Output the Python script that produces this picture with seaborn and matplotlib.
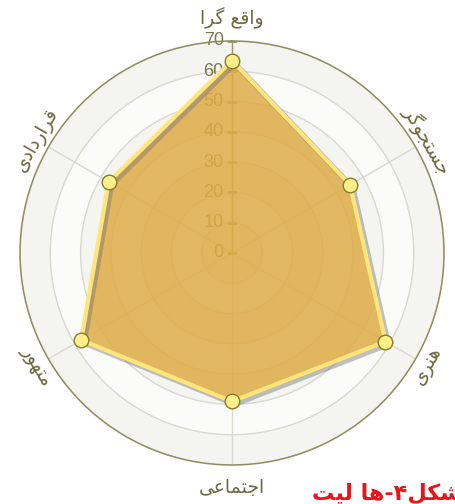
import matplotlib
matplotlib.use("Agg")
import matplotlib.pyplot as plt
import matplotlib.patheffects as pe
from matplotlib.transforms import offset_copy
import seaborn as sns
import numpy as np
import pandas as pd

# data (clockwise from top)
categories = ["واقع گرا", "جستجوگر", "هنری", "اجتماعی", "متهور", "قراردادی"]
scores = [63.5, 45, 58.5, 49, 57.5, 47]
r_ticks = [0, 10, 20, 30, 40, 50, 60, 70]
caption = "شکل۴-ها لیت"

# minimal persian shaping: (isolated, final, initial, medial)
FORMS = {
    "ا": ("\uFE8D", "\uFE8E", None, None),
    "و": ("\uFEED", "\uFEEE", None, None),
    "ر": ("\uFEAD", "\uFEAE", None, None),
    "د": ("\uFEA9", "\uFEAA", None, None),
    "ق": ("\uFED5", "\uFED6", "\uFED7", "\uFED8"),
    "ع": ("\uFEC9", "\uFECA", "\uFECB", "\uFECC"),
    "گ": ("\uFB92", "\uFB93", "\uFB94", "\uFB95"),
    "ج": ("\uFE9D", "\uFE9E", "\uFE9F", "\uFEA0"),
    "س": ("\uFEB1", "\uFEB2", "\uFEB3", "\uFEB4"),
    "ت": ("\uFE95", "\uFE96", "\uFE97", "\uFE98"),
    "ه": ("\uFEE9", "\uFEEA", "\uFEEB", "\uFEEC"),
    "ن": ("\uFEE5", "\uFEE6", "\uFEE7", "\uFEE8"),
    "ی": ("\uFBFC", "\uFBFD", "\uFBFE", "\uFBFF"),
    "م": ("\uFEE1", "\uFEE2", "\uFEE3", "\uFEE4"),
    "ل": ("\uFEDD", "\uFEDE", "\uFEDF", "\uFEE0"),
    "ش": ("\uFEB5", "\uFEB6", "\uFEB7", "\uFEB8"),
    "ک": ("\uFB8E", "\uFB8F", "\uFB90", "\uFB91"),
}


def shape(s):
    out = []
    for i, c in enumerate(s):
        if c not in FORMS:
            out.append(c)
            continue
        iso, fin, ini, med = FORMS[c]
        prev = s[i - 1] if i > 0 else ""
        nxt = s[i + 1] if i + 1 < len(s) else ""
        jp = prev in FORMS and FORMS[prev][2] is not None
        jn = nxt in FORMS and ini is not None
        if jp and jn:
            out.append(med)
        elif jp:
            out.append(fin)
        elif jn:
            out.append(ini)
        else:
            out.append(iso)
    return "".join(reversed(out))


sns.set_style("white")
plt.rcParams["font.family"] = ["DejaVu Sans"]

n = len(categories)
theta = np.arange(n) * 2 * np.pi / n
df = pd.DataFrame({"theta": np.append(theta, 2 * np.pi), "score": scores + scores[:1]})

fig = plt.figure(figsize=(4.56, 5.04), dpi=100)
ax = fig.add_axes([0.0439, 0.0774, 0.9298, 0.8413], projection="polar")
ax.set_theta_zero_location("N")
ax.set_theta_direction(-1)
ax.set_ylim(0, r_ticks[-1])
ax.set_axisbelow(True)

# alternating bands
for i in range(len(r_ticks) - 1):
    band = "#f4f4f0" if (len(r_ticks) - 2 - i) % 2 == 0 else "#fbfbf9"
    ax.bar(0, r_ticks[i + 1] - r_ticks[i], width=2 * np.pi, bottom=r_ticks[i],
           color=band, edgecolor="none", zorder=0.1)

ax.set_xticks(theta)
ax.set_xticklabels([])
ax.set_yticks(r_ticks)
ax.set_yticklabels([])
ax.grid(True, color="#d9d9cf", linewidth=1)
ax.spines["polar"].set_color("#8f8d5e")
ax.spines["polar"].set_linewidth(1.1)
ax.tick_params(length=0)

# value axis line, ticks and labels on the top spoke
ax.plot([0, 0], [r_ticks[0], r_ticks[-1]], color="#9c9a70", lw=1, zorder=0.6)
ax.scatter([0] * len(r_ticks), r_ticks, marker="_", s=45, color="#9c9a70",
           linewidths=1, zorder=0.6)
lbl_tr = offset_copy(ax.transData, fig=fig, x=-6, y=0, units="points")
for r in r_ticks:
    ax.text(0, r, str(r), transform=lbl_tr, ha="right", va="center",
            fontsize=13, family="Liberation Sans", color="#7a784f", zorder=0.7)

# filled area, outline and markers
ax.fill(df["theta"], df["score"], color="#deac46", alpha=0.85, zorder=2, lw=0)
sns.lineplot(data=df, x="theta", y="score", sort=False, color="#ffe57a", lw=3,
             ax=ax, zorder=3,
             path_effects=[pe.SimpleLineShadow(offset=(2, -2), shadow_color="#777777",
                                               alpha=0.45, linewidth=4), pe.Normal()])
sns.scatterplot(x=theta, y=scores, s=110, color="#fff08a", edgecolor="#8a7a30",
                linewidth=1, zorder=4, ax=ax, clip_on=False)
ax.set_xlabel("")
ax.set_ylabel("")

# category labels, tangent to the circle
rots = [0, -60, 60, 0, -60, 60]
radii = [77.5, 74.5, 74.5, 77.5, 74.5, 74.5]
for t, name, rot, rr in zip(theta, categories, rots, radii):
    ax.text(t, rr, shape(name), rotation=rot, rotation_mode="anchor",
            ha="center", va="center", fontsize=13.5, color="#6b6940", clip_on=False)

fig.text(312 / 456, 4 / 504, shape(caption), ha="left", va="baseline",
         fontsize=16, fontweight="bold", color="#e8141b")

fig.savefig("out.png", dpi=100)
